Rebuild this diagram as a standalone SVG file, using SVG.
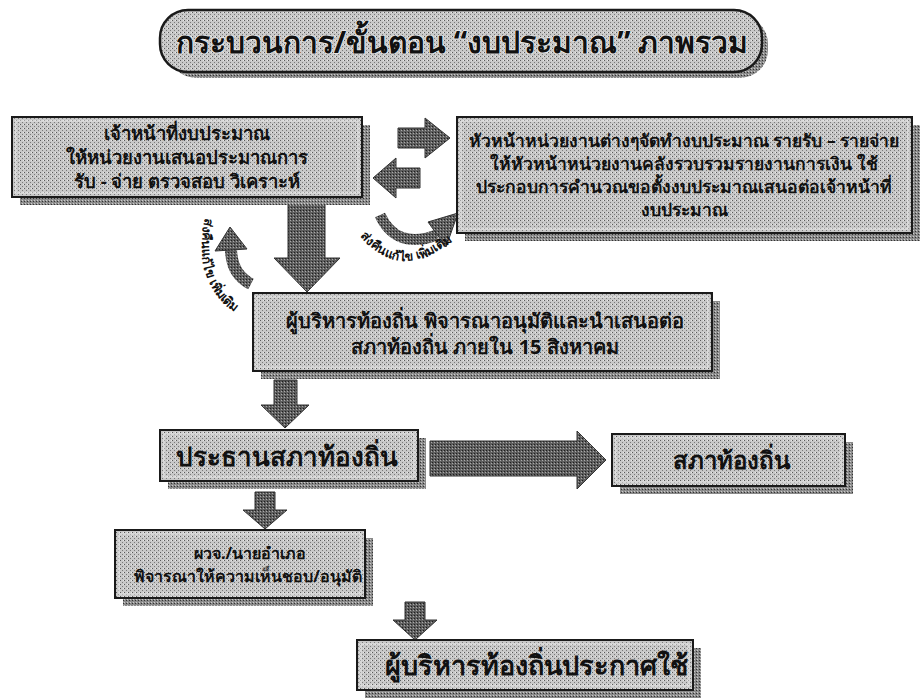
<svg xmlns="http://www.w3.org/2000/svg" width="921" height="699" viewBox="0 0 921 699">
<defs>
<pattern id="ht" width="4" height="4" patternUnits="userSpaceOnUse"><rect width="4" height="4" fill="#c8c8c8"/><rect width="1" height="1" fill="#5a5a5a"/><rect x="2" y="2" width="1" height="1" fill="#7a7a7a"/><rect x="3" y="0" width="1" height="1" fill="#e8e8e8"/></pattern>
<pattern id="dk" width="3" height="3" patternUnits="userSpaceOnUse"><rect width="3" height="3" fill="#5e5e5e"/><rect width="1" height="1" fill="#1e1e1e"/><rect x="2" y="1" width="1" height="1" fill="#aaaaaa"/></pattern>
<pattern id="sh" width="3" height="3" patternUnits="userSpaceOnUse"><rect width="3" height="3" fill="#8a8a8a"/><rect width="1" height="1" fill="#333"/><rect x="1" y="2" width="1" height="1" fill="#ccc"/></pattern>
</defs>
<style>
.box{fill:url(#ht);stroke:#1a1a1a;stroke-width:2}
.inner{fill:none;stroke:#e6e6e6;stroke-width:1}
.shadow{fill:url(#sh)}
.arrow{fill:url(#dk);stroke:#333;stroke-width:1}
.t{font-family:"Noto Sans","DejaVu Sans",sans-serif;font-weight:bold;fill:#111;text-anchor:middle}
.lbl{font-family:"Noto Sans","DejaVu Sans",sans-serif;font-weight:bold;font-size:12.5px;fill:#111}
</style>

<g id="title">
<rect x="168" y="16" width="600" height="62" rx="28" fill="url(#sh)"/>
<rect x="160" y="10" width="602" height="62" rx="28" fill="url(#ht)" stroke="#1a1a1a" stroke-width="2.5"/>
<text class="t" x="462" y="53" font-size="30" style="paint-order:stroke;stroke:#eee;stroke-width:1.5">กระบวนการ/ขั้นตอน “งบประมาณ” ภาพรวม</text>
</g>

<g id="connectors">
<polygon class="arrow" points="398,128 425,128 425,118 450,138 425,158 425,148 398,148"/>
<polygon class="arrow" points="420,168 396,168 396,158 373,178 396,198 396,188 420,188"/>
<path d="M380,215 Q396,250 437,235" fill="none" stroke="url(#dk)" stroke-width="11"/>
<polygon class="arrow" points="428,222 458,213 446,247"/>
<path id="pr" d="M360,236 Q405,292 474,222" fill="none"/>
<text class="lbl"><textPath href="#pr">ส่งคืนแก้ไข เพิ่มเติม</textPath></text>
<polygon class="arrow" points="288,204 325,204 325,258 340,258 307,292 274,258 288,258"/>
<path d="M251,284 Q231,274 231,248" fill="none" stroke="url(#dk)" stroke-width="12"/>
<polygon class="arrow" points="215,251 247,249 230,227"/>
<path id="pl" d="M205,218 Q188,300 262,326" fill="none"/>
<text class="lbl"><textPath href="#pl">ส่งคืนแก้ไข  เพิ่มเติม</textPath></text>
<polygon class="arrow" points="274,380 297,380 297,405 309,405 285,428 261,405 274,405"/>
<polygon class="arrow" points="430,441 577,441 577,431 606,460 577,489 577,476 430,476"/>
<polygon class="arrow" points="255,492 275,492 275,510 287,510 265,529 243,510 255,510"/>
<polygon class="arrow" points="405,602 425,602 425,620 437,620 415,640 393,620 405,620"/>
</g>

<g id="box1">
<rect class="shadow" x="20" y="125" width="350" height="80"/>
<rect class="box" x="12" y="117" width="350" height="80"/>
<rect class="inner" x="16" y="121" width="342" height="72"/>
<text class="t" font-size="18.5"><tspan x="187" y="140">เจ้าหน้าที่งบประมาณ</tspan><tspan x="187" y="164">ให้หน่วยงานเสนอประมาณการ</tspan><tspan x="187" y="188">รับ - จ่าย ตรวจสอบ วิเคราะห์</tspan></text>
</g>

<g id="box2">
<rect class="shadow" x="465" y="125" width="455" height="116"/>
<rect class="box" x="457" y="117" width="455" height="116"/>
<rect class="inner" x="461" y="121" width="447" height="108"/>
<text class="t" font-size="17.5"><tspan x="684" y="147">หัวหน้าหน่วยงานต่างๆจัดทำงบประมาณ รายรับ – รายจ่าย</tspan><tspan x="684" y="170">ให้หัวหน้าหน่วยงานคลังรวบรวมรายงานการเงิน ใช้</tspan><tspan x="684" y="193">ประกอบการคำนวณขอตั้งงบประมาณเสนอต่อเจ้าหน้าที่</tspan><tspan x="684" y="216">งบประมาณ</tspan></text>
</g>

<g id="box3">
<rect class="shadow" x="261" y="301" width="459" height="78"/>
<rect class="box" x="253" y="293" width="459" height="78"/>
<rect class="inner" x="257" y="297" width="451" height="70"/>
<text class="t" font-size="20"><tspan x="485" y="328">ผู้บริหารท้องถิ่น พิจารณาอนุมัติและนำเสนอต่อ</tspan><tspan x="485" y="354">สภาท้องถิ่น ภายใน 15 สิงหาคม</tspan></text>
</g>

<g id="box4">
<rect class="shadow" x="168" y="438" width="258" height="51"/>
<rect class="box" x="160" y="430" width="258" height="51"/>
<rect class="inner" x="164" y="434" width="250" height="43"/>
<text class="t" font-size="26" x="287" y="466">ประธานสภาท้องถิ่น</text>
</g>

<g id="box6">
<rect class="shadow" x="620" y="442" width="233" height="52"/>
<rect class="box" x="612" y="434" width="233" height="52"/>
<rect class="inner" x="616" y="438" width="225" height="44"/>
<text class="t" font-size="24" x="731" y="469">สภาท้องถิ่น</text>
</g>

<g id="box5">
<rect class="shadow" x="123" y="538" width="250" height="68"/>
<rect class="box" x="115" y="530" width="250" height="68"/>
<rect class="inner" x="119" y="534" width="242" height="60"/>
<text class="t" font-size="16"><tspan x="250" y="559">ผวจ./นายอำเภอ</tspan><tspan x="248" y="582">พิจารณาให้ความเห็นชอบ/อนุมัติ</tspan></text>
</g>

<g id="box7">
<rect class="shadow" x="365" y="648" width="336" height="50"/>
<rect class="box" x="357" y="640" width="336" height="50"/>
<rect class="inner" x="361" y="644" width="328" height="42"/>
<text class="t" font-size="27" x="536" y="675">ผู้บริหารท้องถิ่นประกาศใช้</text>
</g>
</svg>
